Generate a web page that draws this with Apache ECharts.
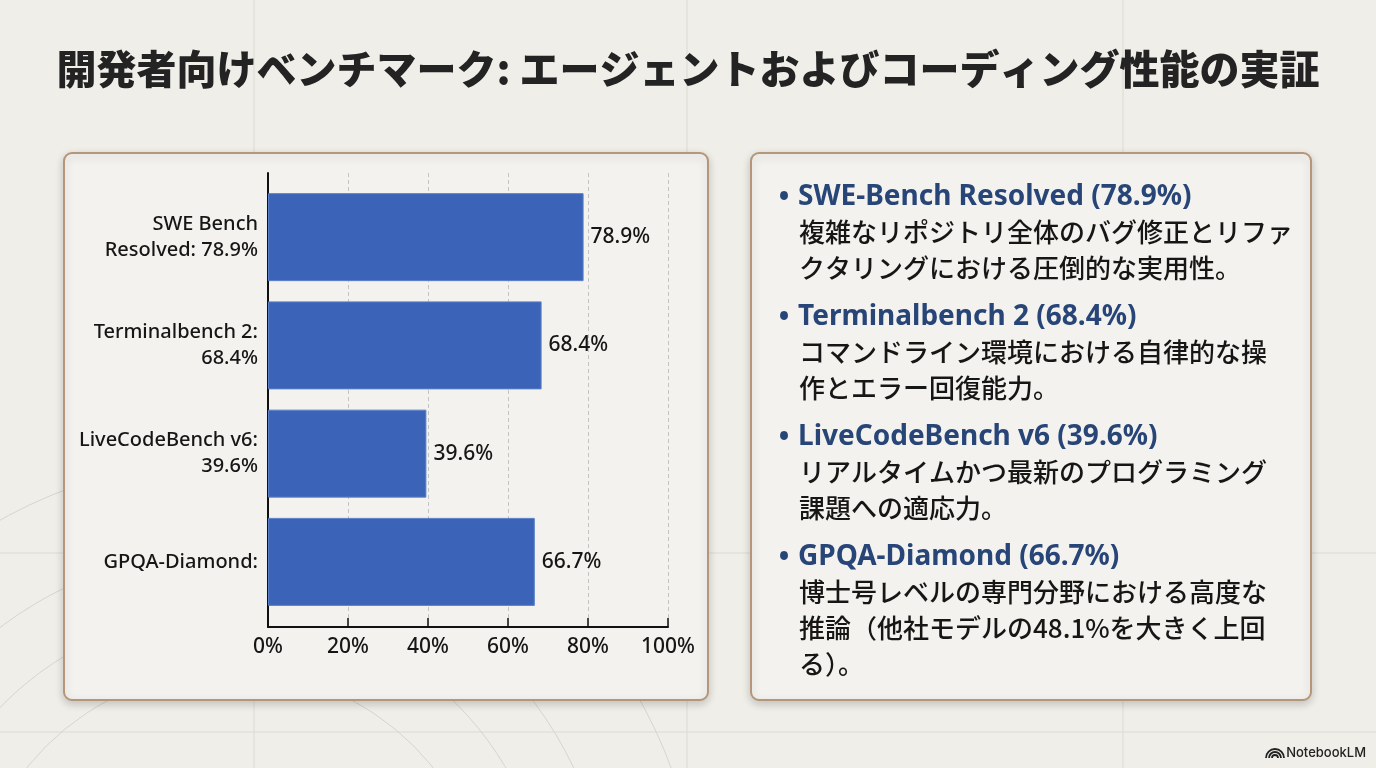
<!DOCTYPE html>
<html>
<head>
<meta charset="utf-8">
<title>開発者向けベンチマーク</title>
<script src="https://cdn.jsdelivr.net/npm/echarts@6/dist/echarts.min.js"></script>
<style>
  html, body { margin: 0; padding: 0; background: #efeee9; }
  #chart { width: 1376px; height: 768px; }
</style>
</head>
<body>
<div id="chart"></div>
<script>
// chart data
var categories = ['SWE Bench\nResolved: 78.9%', 'Terminalbench 2:\n68.4%', 'LiveCodeBench v6:\n39.6%', 'GPQA-Diamond:']
var scores = [78.9, 68.4, 39.6, 66.7]
var axisSteps = [0, 20, 40, 60, 80, 100]

// right panel notes
var noteTitles = ['SWE-Bench Resolved (78.9%)', 'Terminalbench 2 (68.4%)', 'LiveCodeBench v6 (39.6%)', 'GPQA-Diamond (66.7%)']
var noteBodies = [
  '複雑なリポジトリ全体のバグ修正とリファ\nクタリングにおける圧倒的な実用性。',
  'コマンドライン環境における自律的な操\n作とエラー回復能力。',
  'リアルタイムかつ最新のプログラミング\n課題への適応力。',
  '博士号レベルの専門分野における高度な\n推論（他社モデルの48.1%を大きく上回\nる）。'
]

var JP = '"Noto Sans CJK JP", "Noto Sans", sans-serif'
var LATIN = '"Noto Sans", "Noto Sans CJK JP", sans-serif'
var NAVY = '#284578'
var INK = '#161616'

var chart = echarts.init(document.getElementById('chart'), null, { renderer: 'canvas' })

// background + panels
var graphics = []
var lineColor = '#dcdbd5'
;[254, 687, 1123].forEach(function(x) {
  graphics.push({ type: 'line', z: -10, shape: { x1: x, y1: 0, x2: x, y2: 768 }, style: { stroke: lineColor, lineWidth: 1 } })
})
;[553, 732].forEach(function(y) {
  graphics.push({ type: 'line', z: -10, shape: { x1: 0, y1: y, x2: 1376, y2: y }, style: { stroke: lineColor, lineWidth: 1 } })
})
;[260, 320, 380, 470].forEach(function(r) {
  graphics.push({ type: 'circle', z: -10, shape: { cx: 230, cy: 930, r: r }, style: { fill: 'none', stroke: '#d6d5cf', lineWidth: 1 } })
})

function panel(x, y, w, h) {
  return {
    type: 'rect', z: -5,
    shape: { x: x, y: y, width: w, height: h, r: 8 },
    style: {
      fill: '#f3f2ee', stroke: '#b4967a', lineWidth: 2,
      shadowBlur: 8, shadowOffsetY: 3, shadowColor: 'rgba(0,0,0,0.18)'
    }
  }
}
graphics.push(panel(64, 153, 644, 547))
graphics.push(panel(751, 153, 560, 547))

// notes text
var y = 197
noteTitles.forEach(function(t, i) {
  graphics.push({ type: 'text', z: 5, style: { text: '•', x: 784, y: y + 1, fill: NAVY, font: 'bold 28px ' + LATIN, align: 'center', verticalAlign: 'middle' } })
  graphics.push({ type: 'text', z: 5, style: { text: t, x: 798, y: y, fill: NAVY, font: 'bold 28px ' + LATIN, align: 'left', verticalAlign: 'middle' } })
  graphics.push({ type: 'text', z: 5, style: { text: noteBodies[i], x: 799, y: y + 35 - 18, fill: INK, font: '500 26px ' + JP, lineHeight: 36, align: 'left', verticalAlign: 'top' } })
  var lines = noteBodies[i].split('\n').length
  y = y + 35 + (lines - 1) * 36 + 49
})

// NotebookLM mark
;[3, 6, 9].forEach(function(r) {
  graphics.push({ type: 'arc', z: 5, shape: { cx: 1275, cy: 758, r: r, startAngle: Math.PI, endAngle: Math.PI * 2 }, style: { stroke: '#222', lineWidth: 1.8, fill: 'none' } })
})
graphics.push({ type: 'text', z: 5, style: { text: 'NotebookLM', x: 1366, y: 753, fill: '#222', font: '500 13px Inter, Roboto, sans-serif', align: 'right', verticalAlign: 'middle' } })

chart.setOption({
  backgroundColor: '#efeee9',
  animation: false,
  title: {
    text: '開発者向けベンチマーク: エージェントおよびコーディング性能の実証',
    left: 'center',
    top: 44,
    textStyle: { fontFamily: JP, fontWeight: 900, fontSize: 40, color: '#232323' }
  },
  grid: [
    { left: 268, right: 708, top: 173, bottom: 141 },
    { left: 268, right: 708, top: 183, bottom: 152 }
  ],
  xAxis: [
    {
      gridIndex: 0, type: 'value', min: axisSteps[0], max: axisSteps[axisSteps.length - 1], interval: 20,
      axisLine: { show: true, lineStyle: { color: '#111', width: 2 } },
      axisTick: { show: true, inside: true, length: 9, lineStyle: { color: '#111', width: 1.5 } },
      axisLabel: { formatter: '{value}%', fontFamily: LATIN, fontWeight: 500, fontSize: 21, color: INK, margin: 10 },
      splitLine: { show: true, lineStyle: { color: '#c4c4c4', type: [4, 3], width: 1 } }
    },
    { gridIndex: 1, type: 'value', min: 0, max: 100, show: false }
  ],
  yAxis: [
    {
      gridIndex: 0, type: 'value', min: 0, max: 1,
      axisLine: { show: true, lineStyle: { color: '#111', width: 2 } },
      axisTick: { show: false }, axisLabel: { show: false }, splitLine: { show: false }
    },
    {
      gridIndex: 1, type: 'category', inverse: true, data: categories,
      axisLine: { show: false }, axisTick: { show: false },
      axisLabel: { fontFamily: LATIN, fontWeight: 500, fontSize: 20, lineHeight: 26, color: INK, margin: 10, align: 'right' }
    }
  ],
  series: [{
    type: 'bar',
    xAxisIndex: 1,
    yAxisIndex: 1,
    data: scores,
    barWidth: 88,
    itemStyle: { color: '#3b63b8', borderColor: '#5b80c8', borderWidth: 1 },
    label: {
      show: true, position: 'right', distance: 7,
      formatter: '{c}%', fontFamily: LATIN, fontWeight: 500, fontSize: 21, color: INK
    }
  }],
  graphic: graphics
})
</script>
</body>
</html>
